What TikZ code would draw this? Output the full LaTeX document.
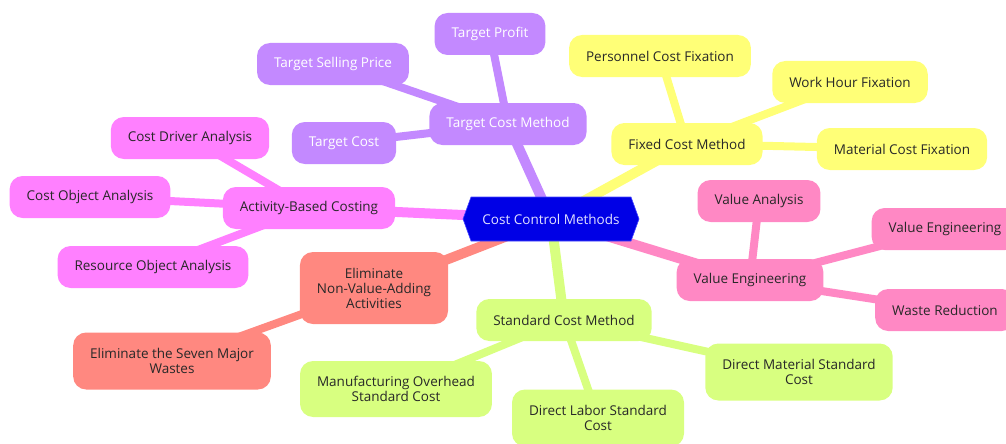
\documentclass[tikz,border=0pt]{standalone}
\usepackage{fontspec}
\setmainfont{Open Sans}
\usetikzlibrary{shapes.symbols, backgrounds}
\definecolor{rootblue}{RGB}{0, 0, 230}
\definecolor{rootedge}{RGB}{70, 70, 255}
\definecolor{targetpurple}{RGB}{195, 137, 255}
\definecolor{fixedyellow}{RGB}{255, 255, 119}
\definecolor{abcmagenta}{RGB}{255, 128, 255}
\definecolor{valuepink}{RGB}{255, 136, 196}
\definecolor{wastesalmon}{RGB}{255, 136, 128}
\definecolor{stdlime}{RGB}{216, 255, 128}
\definecolor{inkgrey}{RGB}{40, 40, 40}

\begin{document}
\begin{tikzpicture}[
    x=1pt, y=-1pt,
    idea/.style={rounded corners=13pt, align=center, inner xsep=17pt, inner ysep=6pt,
        minimum height=42pt, font=\fontsize{13.5}{15}\selectfont, text=inkgrey},
    rootnode/.style={shape=signal, signal to=west and east, signal pointer angle=140,
        fill=rootblue, draw=rootedge, line width=0.6pt, minimum width=176pt, minimum height=44pt,
        inner xsep=4pt, font=\fontsize{13.5}{15}\selectfont, text={rgb,255:red,225;green,225;blue,255}},
    purplecard/.style={idea, fill=targetpurple, text=white},
    yellowcard/.style={idea, fill=fixedyellow},
    magentacard/.style={idea, fill=abcmagenta},
    pinkcard/.style={idea, fill=valuepink},
    salmoncard/.style={idea, fill=wastesalmon},
    limecard/.style={idea, fill=stdlime},
    branch/.style={line width=10pt},
    twig/.style={line width=8pt}
]
    \useasboundingbox (0,0) rectangle (1006,444);

    \node[rootnode] (root) at (551,219) {Cost Control Methods};

    % target costing
    \node[purplecard] (tcm) at (508,124) {Target Cost Method};
    \node[purplecard] (tprofit) at (490,34) {Target Profit};
    \node[purplecard] (tprice) at (333,64) {Target Selling Price};
    \node[purplecard] (tcost) at (344,143) {Target Cost};

    % fixed costs
    \node[yellowcard] (fcm) at (687,144) {Fixed Cost Method};
    \node[yellowcard] (personnel) at (660,56) {Personnel Cost Fixation};
    \node[yellowcard] (workhour) at (850,82) {Work Hour Fixation};
    \node[yellowcard] (material) at (902,149) {Material Cost Fixation};

    % activity-based costing
    \node[magentacard] (abc) at (309,208) {Activity-Based Costing};
    \node[magentacard] (driver) at (190,138) {Cost Driver Analysis};
    \node[magentacard] (costobj) at (90,197) {Cost Object Analysis};
    \node[magentacard] (resource) at (153,267) {Resource Object Analysis};

    % value engineering
    \node[pinkcard] (ve) at (750,280) {Value Engineering};
    \node[pinkcard] (vanalysis) at (759,201) {Value Analysis};
    \node[pinkcard] (vengineering) at (945,229) {Value Engineering};
    \node[pinkcard] (wastered) at (945,310) {Waste Reduction};

    % waste elimination
    \node[salmoncard, minimum height=72pt] (nonvalue) at (374,288) {Eliminate\\Non-Value-Adding\\Activities};
    \node[salmoncard, minimum height=57pt] (sevenwastes) at (172,361) {Eliminate the Seven Major\\Wastes};

    % standard costing
    \node[limecard] (scm) at (564,320) {Standard Cost Method};
    \node[limecard, minimum height=56pt] (overhead) at (396,389) {Manufacturing Overhead\\Standard Cost};
    \node[limecard, minimum height=57pt] (labor) at (598,418) {Direct Labor Standard\\Cost};
    \node[limecard, minimum height=57pt] (dmaterial) at (799,372) {Direct Material Standard\\Cost};

    \begin{scope}[on background layer]
        \draw[branch, targetpurple] (root.center) -- (tcm.center);
        \draw[branch, fixedyellow] (root.center) -- (fcm.center);
        \draw[branch, abcmagenta] (root.center) -- (abc.center);
        \draw[branch, valuepink] (root.center) -- (ve.center);
        \draw[branch, wastesalmon] (root.center) -- (nonvalue.center);
        \draw[branch, stdlime] (root.center) -- (scm.center);

        \foreach \leaf in {tprofit, tprice, tcost}
            \draw[twig, targetpurple] (tcm.center) -- (\leaf.center);
        \foreach \leaf in {personnel, workhour, material}
            \draw[twig, fixedyellow] (fcm.center) -- (\leaf.center);
        \foreach \leaf in {driver, costobj, resource}
            \draw[twig, abcmagenta] (abc.center) -- (\leaf.center);
        \foreach \leaf in {vanalysis, vengineering, wastered}
            \draw[twig, valuepink] (ve.center) -- (\leaf.center);
        \draw[twig, wastesalmon] (nonvalue.center) -- (sevenwastes.center);
        \foreach \leaf in {overhead, labor, dmaterial}
            \draw[twig, stdlime] (scm.center) -- (\leaf.center);
    \end{scope}
\end{tikzpicture}
\end{document}
